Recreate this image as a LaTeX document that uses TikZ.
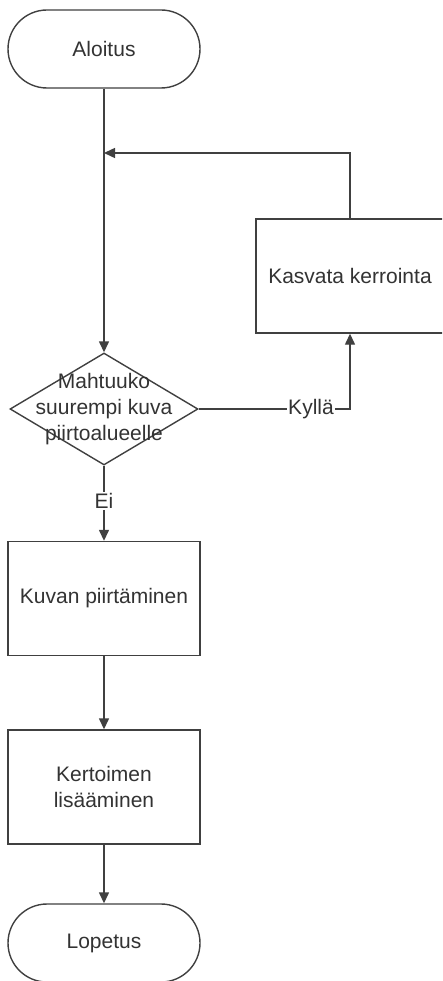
\documentclass[tikz,border=0pt]{standalone}
\usepackage{fontspec}
\setmainfont{Liberation Sans}
\usetikzlibrary{arrows.meta,shapes.geometric}
\begin{document}
\begin{tikzpicture}[x=1pt,y=-1pt,
  every node/.style={font=\fontsize{21}{26}\selectfont, text=black!80},
  ln/.style={draw=black!75, line width=1.4pt},
  arr/.style={ln, -{Triangle[length=11pt,width=10pt]}},
  term/.style={ln, rectangle, rounded corners=39pt, minimum width=192pt, minimum height=78pt, inner sep=0pt},
  proc/.style={ln, rectangle, minimum width=192pt, minimum height=114pt, inner sep=0pt, align=center},
  dec/.style={ln, diamond, minimum width=188pt, minimum height=112pt, inner sep=0pt},
  lbl/.style={fill=white, inner sep=1pt}]
\useasboundingbox (0,0) rectangle (442,981);
\fill[white] (0,0) rectangle (442,981);
\begin{scope}
\clip (0,0) rectangle (442,981);
\node[proc, minimum width=200pt] (inc) at (356,276) {};
\end{scope}
\node[term] (start) at (104,49) {Aloitus};
\node[dec] (d) at (104,409) {};
\node[align=center] (dtext) at (104,409) {Mahtuuko\\suurempi kuva\\piirtoalueelle};
\node (inctext) at (350,276) {Kasvata kerrointa};
\node[proc] (draw) at (104,598.5) {Kuvan piirtäminen};
\node[proc] (mult) at (104,787) {Kertoimen\\lisääminen};
\node[term] (end) at (104,943) {Lopetus};
\coordinate (join) at (104,153);
\coordinate (up) at (350,333);
\node[lbl] (kylla) at (311,409) {Kyllä};
\node[lbl] (ei) at (104,501) {Ei};
\draw[arr] (start) -- (d.north);
\draw[arr] (inc.north -| up) |- (join);
\draw[ln] (d.east) -- (kylla.west);
\draw[arr] (kylla.east) -| (inc.south -| up);
\draw[ln] (d.south) -- (ei.north);
\draw[arr] (ei.south) -- (draw.north);
\draw[arr] (draw.south) -- (mult.north);
\draw[arr] (mult.south) -- (end.north);
\end{tikzpicture}
\end{document}
